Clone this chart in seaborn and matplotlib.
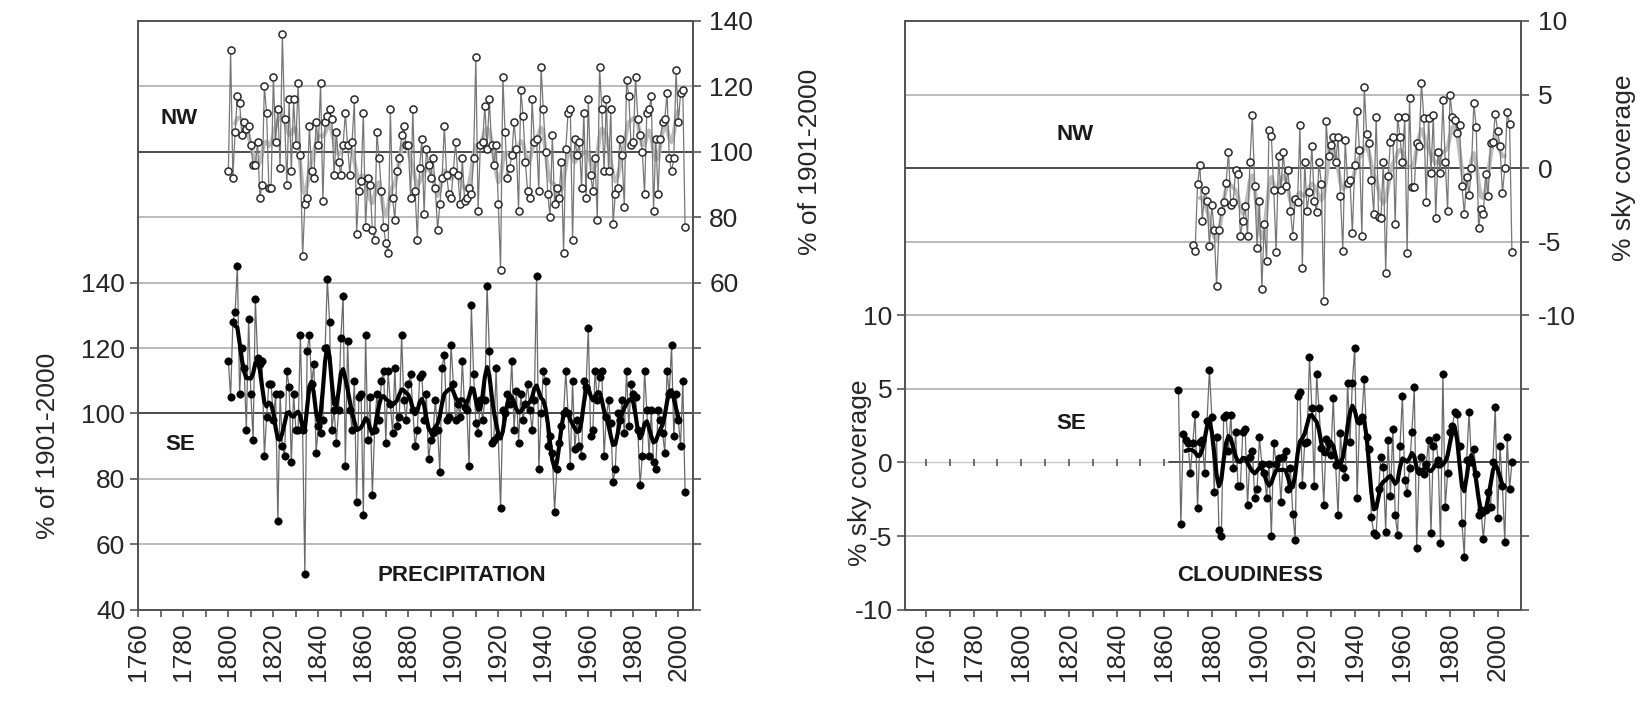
import numpy as np
import pandas as pd
import seaborn as sns
import matplotlib.pyplot as plt

# ---- precipitation (% of 1901-2000), annual values ----
prec_start = 1800
prec_nw = [94, 131, 92, 106, 117, 115, 105, 109, 107, 108, 102, 96, 96, 103, 86, 90, 120, 112, 89, 89,
           123, 103, 113, 95, 136, 110, 90, 116, 94, 116, 102, 121, 99, 68, 84, 86, 108, 94, 92, 109,
           102, 121, 85, 109, 111, 113, 110, 93, 106, 97, 93, 102, 112, 102,
           93, 103, 116, 75, 88, 91, 112, 77, 92, 90, 76, 73, 106, 98, 88, 77, 72, 69, 113, 86,
           79, 94, 98, 105, 108, 102, 102, 86, 113, 88, 73, 95, 104, 81, 101, 96, 92, 98, 89, 76,
           84, 92, 108, 93, 87, 86, 94, 103, 93, 84, 98,
           85, 86, 89, 87, 98, 129, 82, 102, 103, 114, 101, 116, 102, 96, 102, 84, 64, 123, 106, 92,
           95, 99, 109, 101, 82, 119, 111, 97, 88, 86, 116, 103, 104, 88, 126, 113, 100, 87, 80, 105,
           84, 89, 86, 97, 69, 101, 112, 113, 73, 104, 99, 103, 89,
           112, 86, 116, 93, 88, 98, 79, 126, 113, 94, 116, 94, 113, 78, 87, 89, 104, 99, 83, 122,
           117, 102, 103, 123, 110, 105, 100, 87, 112, 113, 117, 82, 104, 87, 104, 109, 110, 118, 98, 94,
           98, 125, 109, 118, 119, 77]
prec_se = [116, 105, 128, 131, 145, 106, 120, 114, 95, 129, 106, 92, 135, 117, 115, 116, 87, 99, 109, 109,
           98, 106,
           67, 106, 90, 87, 113, 108, 85, 106, 95, 95, 124, 95, 51, 119, 124, 109, 115, 88, 96, 94,
           98, 120, 141, 128, 95, 101, 91, 101, 123, 136, 84,
           122, 101, 95, 110, 73, 105, 106, 69, 124, 92, 105, 75, 95, 106, 98, 110, 113, 91, 113, 103,
           94, 114, 96, 99, 124, 104, 98, 109, 112, 101, 90, 95, 111, 112, 98, 106, 86, 92, 94, 104,
           95, 82, 114, 118, 98, 99, 121, 109, 98, 103, 99, 116,
           102, 101, 84, 133, 112, 97, 94, 104, 98, 104, 139, 119, 91, 92, 114, 93, 71, 101, 100, 106,
           103, 116, 95, 107, 91, 106, 98, 103, 109, 101, 95, 104, 142, 83, 100, 113, 110, 90, 93, 88,
           70, 83, 91, 96, 100, 113, 100, 84, 110, 89,
           98, 90, 87, 110, 108, 126, 93, 95, 113, 104, 111, 113, 87, 99, 104, 97, 79, 83, 100, 98,
           104, 94, 113, 96, 109, 106, 105, 95, 78, 87, 113, 101, 87, 101, 85, 83, 101, 98, 94, 88,
           113, 106, 121, 93, 106, 98, 90, 110, 76]

# ---- cloudiness (% sky coverage anomaly) ----
cloud_nw_start = 1872
cloud_nw = [-5.2, -5.6, -1.1, 0.2, -3.6, -1.5, -2.2, -5.3, -2.5, -4.2, -8.0, -4.2, -2.9, -2.3, -1.0, 1.1,
            -2.5, -2.3, -0.1, -0.4, -4.6, -3.6, -2.6, -4.6, 0.4, 3.6, -1.2, -5.4, -2.2, -8.2, -3.8, -6.3,
            2.6, 2.2, -1.5, -5.7, 0.8, -1.5,
            1.1, -1.2, -0.1, -2.9, -4.6, -2.1, -2.3, 2.9, -6.8, 0.4, -2.9, -1.6, 1.5, -2.2, -3.0, 0.4,
            -1.1, -9.0, 3.2, 0.8, 1.6, 2.1, 0.4, 2.1, -1.9, -5.6, 1.9, -1.0, -0.8, -4.4, 0.2, 3.9,
            1.2, -4.6, 5.5, 2.3, 1.7, -0.8, -3.1, 3.5, -3.3, -3.4, 0.4, -7.1,
            -0.5, 1.8, 2.1, -3.8, 3.5, 2.1, 0.4, 3.5, -5.8, 4.8, -1.3, -1.3, 1.7, 1.5, 5.8, 3.4,
            -2.3, 3.4, -0.3, 3.6, -3.4, 1.1, -0.3, 4.6, 0.4, -2.9, 5.0, 3.5, 3.3, 2.4, 2.9, -1.2,
            -3.1, -0.6, -1.8, 0.0, 4.4, 2.8, -4.1, -2.8, -3.1, -0.4,
            -1.9, 1.7, 1.8, 3.7, 2.5, 1.5, -1.7, 0.0, 3.8, 3.0, -5.7]
cloud_se_start = 1866
cloud_se = [4.9, -4.2, 1.9, 1.5, 1.3, -0.7, 1.3, 3.3, -3.1, 1.4, 1.5, -0.7, 2.8, 6.3, 3.1, -2.0,
            1.7, -4.6, -5.0, 3.1, 3.2, 0.8, 3.2, -0.4, 2.1, -1.6, -1.6, 2.1, 2.3, -2.9, 0.4, 0.8,
            -2.4, -1.8, 1.7, -0.1, -0.7, -2.4, -0.1, -5.0, 1.3, -0.1, 0.3, -2.7, 0.4,
            0.8, -1.8, -0.4, -3.5, -5.3, 4.5, 4.8, -1.5, 1.3, 1.4, 7.2, 3.7, -1.6, 6.0, 3.7, 1.0,
            -2.9, 1.6, 1.3, 0.5, 4.4, -0.2, -3.6, 2.0, -0.4, -1.0, 5.4, 1.4, 5.4, 7.8, -2.4, 2.8,
            3.1, 5.7, 1.7, 0.9, -3.7, -4.8, -4.9, -1.8, 0.4, -0.3,
            -4.7, 1.5, -2.3, 2.3, -3.6, -4.9, 1.1, 4.5, -1.2, -2.1, -0.4, 2.1, 5.1, -5.8, -0.6, 0.4,
            -0.8, -0.1, 1.5, -4.8, 1.1, 1.7, 0.2, -5.5, 6.0, -3.0, -0.7, 2.1, 2.5, 3.4, 3.3, 1.1,
            -4.1, -6.4, 0.2, 3.4, 0.0, 0.9, -0.8, -3.6, -3.2, -5.2, -3.2,
            -2.0, -3.0, 0.0, 3.8, -3.8, 1.1, -1.6, -5.4, 1.7, -1.8, 0.0]

year_ticks = list(range(1760, 2001, 20))
zero_marks = list(range(1760, 1861, 10))   # little marks on the cloudiness SE zero line


def series(start, values):
    return pd.DataFrame({'year': np.arange(start, start + len(values)), 'value': values})


def smooth(df, sigma=1.5, half=3):
    k = np.exp(-0.5 * (np.arange(-half, half + 1) / sigma) ** 2)
    k /= k.sum()
    v = np.convolve(df['value'].to_numpy(float), k, mode='valid')
    return pd.DataFrame({'year': df['year'].to_numpy()[half:len(df) - half], 'value': v})


sns.set_theme(style='white')
plt.rcParams['font.family'] = ['Liberation Sans', 'DejaVu Sans']
plt.rcParams['axes.linewidth'] = 1.4

W, H = 1647, 715
fig = plt.figure(figsize=(W / 100, H / 100), dpi=100)

GRID = '#a8a8a8'
DARK = '#4a4a4a'
SPINE = '#555555'
FS = 19


def panel(box, xlim, left_lim, left_ticks, right_lim, right_ticks, right_labeled,
          grid_vals, dark_vals, nw, se, ylabel, texts, label_pos, light_from=None):
    x0, x1, y0, y1 = box
    ax = fig.add_axes([x0 / W, 1 - y1 / H, (x1 - x0) / W, (y1 - y0) / H])
    ax.set_xlim(*xlim)
    ax.set_ylim(*left_lim)
    for g in grid_vals:
        if g in dark_vals:
            if light_from is not None and g == 0:
                # zero line of the lower series: faint before the record starts, with marks
                ax.plot([xlim[0], light_from], [0, 0], color='#c8c8c8', lw=1.0, zorder=0)
                ax.plot([light_from, xlim[1]], [0, 0], color=DARK, lw=1.4, zorder=0)
                span = (left_lim[1] - left_lim[0]) * 0.006
                ax.vlines(zero_marks, -span, span, color='#555555', lw=1.2, zorder=1)
            else:
                ax.axhline(g, color=DARK, lw=1.4, zorder=0)
        else:
            ax.axhline(g, color=GRID, lw=1.1, zorder=0)
    # SE series on the left axis
    sns.lineplot(data=se, x='year', y='value', ax=ax, color='#6a6a6a', lw=0.9, zorder=2)
    sns.scatterplot(data=se, x='year', y='value', ax=ax, color='black', s=28,
                    edgecolor='black', linewidth=0.5, zorder=3)
    sns.lineplot(data=smooth(se), x='year', y='value', ax=ax, color='black', lw=3.0, zorder=4)
    ax.set_yticks(left_ticks)
    ax.set_yticklabels([str(t) for t in left_ticks])
    ax.set_xticks(year_ticks)
    ax.set_xticks(list(range(1770, 2001, 20)), minor=True)
    ax.set_xticklabels([str(t) for t in year_ticks], rotation=90)
    ax.tick_params(axis='x', which='both', direction='out', length=5, width=1.2,
                   color=SPINE, labelsize=FS, pad=4, bottom=True)
    ax.tick_params(axis='y', direction='out', length=6, width=1.2, color=SPINE,
                   labelsize=FS, pad=3, left=True)
    ax.set_xlabel('')
    ax.set_ylabel(ylabel, fontsize=FS)
    ax.yaxis.set_label_coords(label_pos[0], label_pos[1])

    # NW series on the right axis
    tw = ax.twinx()
    tw.set_ylim(*right_lim)
    sns.lineplot(data=smooth(nw), x='year', y='value', ax=tw, color='#bdbdbd', lw=3.0, zorder=1)
    sns.lineplot(data=nw, x='year', y='value', ax=tw, color='#777777', lw=0.9, zorder=2)
    sns.scatterplot(data=nw, x='year', y='value', ax=tw, s=26, facecolor='white',
                    edgecolor='#2a2a2a', linewidth=1.1, zorder=3)
    tw.set_yticks(right_ticks)
    tw.set_yticklabels([str(t) if t in right_labeled else '' for t in right_ticks])
    tw.tick_params(axis='y', direction='out', length=6, width=1.2, color=SPINE,
                   labelsize=FS, pad=6, right=True)
    tw.set_ylabel(ylabel, fontsize=FS)
    tw.yaxis.set_label_coords(label_pos[2], label_pos[3])
    tw.set_xlabel('')
    for a in (ax, tw):
        for s in a.spines.values():
            s.set_color(SPINE)
            s.set_linewidth(1.4)
    for (tx, ty, t) in texts:
        ax.text(tx, ty, t, transform=ax.transAxes, fontsize=16, fontweight='bold',
                ha='center', va='center', color='#1a1a1a')
    return ax, tw


panel((137.7, 692.7, 21, 609.6), (1759.7, 2006.4), (40, 220), list(range(40, 141, 20)),
      (-40, 140), list(range(-40, 141, 20)), list(range(60, 141, 20)),
      [60, 80, 100, 120, 140, 160, 180, 200], [100, 180],
      series(prec_start, prec_nw), series(prec_start, prec_se), '% of 1901-2000',
      [(0.074, 0.834, 'NW'), (0.077, 0.281, 'SE'), (0.584, 0.058, 'PRECIPITATION')],
      (-0.14, 0.278, 1.19, 0.76))

panel((905, 1521, 21, 609.6), (1751.2, 2009.8), (-10, 30), list(range(-10, 11, 5)),
      (-30, 10), list(range(-30, 11, 5)), list(range(-10, 11, 5)),
      [-5, 0, 5, 10, 15, 20, 25], [0, 20],
      series(cloud_nw_start, cloud_nw), series(cloud_se_start, cloud_se), '% sky coverage',
      [(0.276, 0.807, 'NW'), (0.27, 0.317, 'SE'), (0.56, 0.058, 'CLOUDINESS')],
      (-0.054, 0.232, 1.148, 0.75), light_from=1862)

fig.savefig('out.png', dpi=100)
